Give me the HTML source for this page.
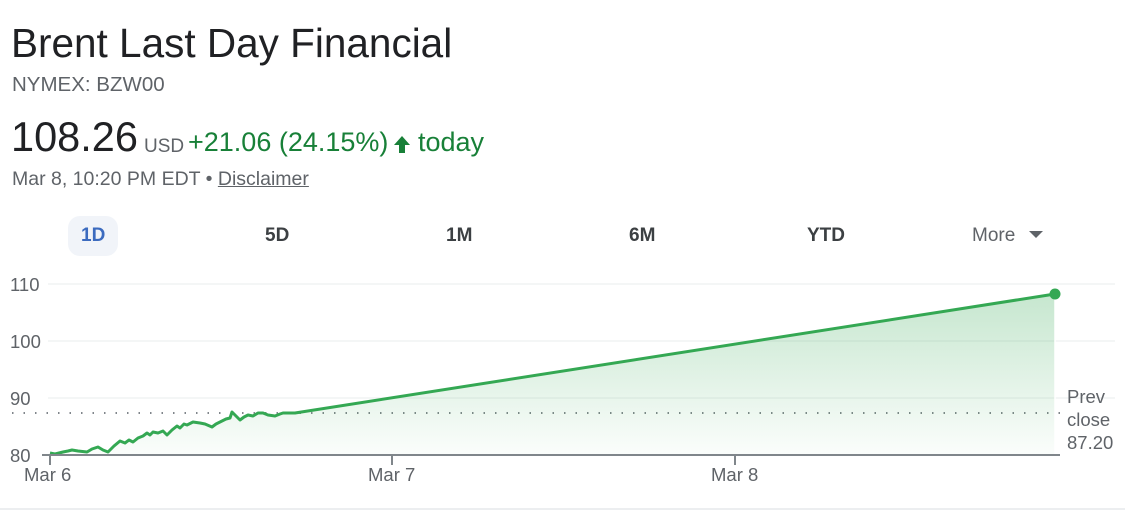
<!DOCTYPE html>
<html><head><style>
body{margin:0;width:1125px;height:522px;background:#fff;font-family:"Liberation Sans",Arial,sans-serif;position:relative;overflow:hidden}
.a{position:absolute;white-space:nowrap}
</style></head><body>
<div class="a" style="left:11px;top:20px;font-size:40.5px;color:#202124">Brent Last Day Financial</div>
<div class="a" style="left:12px;top:73px;font-size:20.5px;color:#5f6368">NYMEX: BZW00</div>
<div class="a" style="left:11px;top:113px;font-size:41.5px;color:#202124">108.26</div>
<div class="a" style="left:144px;top:136px;font-size:19px;color:#5f6368">USD</div>
<div class="a" style="left:188px;top:127px;font-size:27px;color:#188038">+21.06 (24.15%)</div>
<svg class="a" style="left:393px;top:135px" width="20" height="20"><polygon points="9,1 17,10 12,10 12,18 6,18 6,10 1,10" fill="#188038"/></svg>
<div class="a" style="left:418px;top:127px;font-size:27px;color:#188038">today</div>
<div class="a" style="left:12px;top:168px;font-size:19.5px;color:#5f6368">Mar 8, 10:20 PM EDT • <span style="text-decoration:underline">Disclaimer</span></div>
<div class="a" style="left:68px;top:216px;width:50px;height:40px;border-radius:12px;background:#f1f4f9"></div>
<div class="a" style="left:81px;top:225px;font-size:19px;font-weight:bold;color:#3c6bbf">1D</div>
<div class="a" style="left:265px;top:225px;font-size:19px;font-weight:bold;color:#3c4043">5D</div>
<div class="a" style="left:446px;top:225px;font-size:19px;font-weight:bold;color:#3c4043">1M</div>
<div class="a" style="left:629px;top:225px;font-size:19px;font-weight:bold;color:#3c4043">6M</div>
<div class="a" style="left:807px;top:225px;font-size:19px;font-weight:bold;color:#3c4043">YTD</div>
<div class="a" style="left:972px;top:225px;font-size:19px;color:#5f6368">More</div>
<svg class="a" style="left:0;top:0" width="1125" height="522">
<defs><linearGradient id="g" x1="0" y1="0" x2="0" y2="1"><stop offset="0" stop-color="#34a853" stop-opacity="0.28"/><stop offset="1" stop-color="#34a853" stop-opacity="0.02"/></linearGradient></defs>
<polygon points="1029,231 1043,231 1036,238" fill="#5f6368"/>
<g stroke="#f1f3f4" stroke-width="1.5"><line x1="48" y1="284" x2="1115" y2="284"/><line x1="48" y1="341" x2="1115" y2="341"/><line x1="48" y1="398" x2="1115" y2="398"/></g>
<g font-size="18.5" fill="#5f6368"><text x="10" y="291">110</text><text x="10" y="348">100</text><text x="10" y="405">90</text><text x="10" y="462">80</text>
<text x="24" y="481">Mar 6</text><text x="368" y="481">Mar 7</text><text x="711" y="481">Mar 8</text>
<text x="1067" y="403">Prev</text><text x="1067" y="426">close</text><text x="1067" y="449">87.20</text></g>
<line x1="12" y1="413" x2="1060" y2="413" stroke="#80868b" stroke-width="2" stroke-dasharray="1.5,10"/>
<path d="M50,455 L50,453 55,454 63,452 68,451 72,450 78,451 87,452 92,449 98,447 103,450 108,452 114,446 120,441 125,443 129,440 133,442 138,438 143,436 147,433 150,435 153,432 158,433 163,431 167,435 172,430 177,426 180,428 184,424 187,425 193,422 200,423 205,424 212,427 216,424 220,422 226,419 230,418 232,412 236,416 240,420 244,417 248,415 253,416 258,413 263,413 268,415 275,416 280,414 283,413 290,413 295,413 1055,294 1055,455 Z" fill="url(#g)"/>
<polyline points="50,453 55,454 63,452 68,451 72,450 78,451 87,452 92,449 98,447 103,450 108,452 114,446 120,441 125,443 129,440 133,442 138,438 143,436 147,433 150,435 153,432 158,433 163,431 167,435 172,430 177,426 180,428 184,424 187,425 193,422 200,423 205,424 212,427 216,424 220,422 226,419 230,418 232,412 236,416 240,420 244,417 248,415 253,416 258,413 263,413 268,415 275,416 280,414 283,413 290,413 295,413 1055,294" fill="none" stroke="#34a853" stroke-width="3" stroke-linejoin="round"/>
<line x1="1055" y1="294" x2="1055" y2="455" stroke="#fff" stroke-width="1.5"/>
<circle cx="1055" cy="294" r="5.5" fill="#34a853"/>
<line x1="42" y1="455" x2="1060" y2="455" stroke="#80868b" stroke-width="2"/>
<g stroke="#80868b" stroke-width="2"><line x1="50" y1="455" x2="50" y2="465"/><line x1="392" y1="455" x2="392" y2="465"/><line x1="735" y1="455" x2="735" y2="465"/></g>
<line x1="0" y1="509" x2="1125" y2="509" stroke="#dadce0" stroke-width="1"/>
</svg>
</body></html>
